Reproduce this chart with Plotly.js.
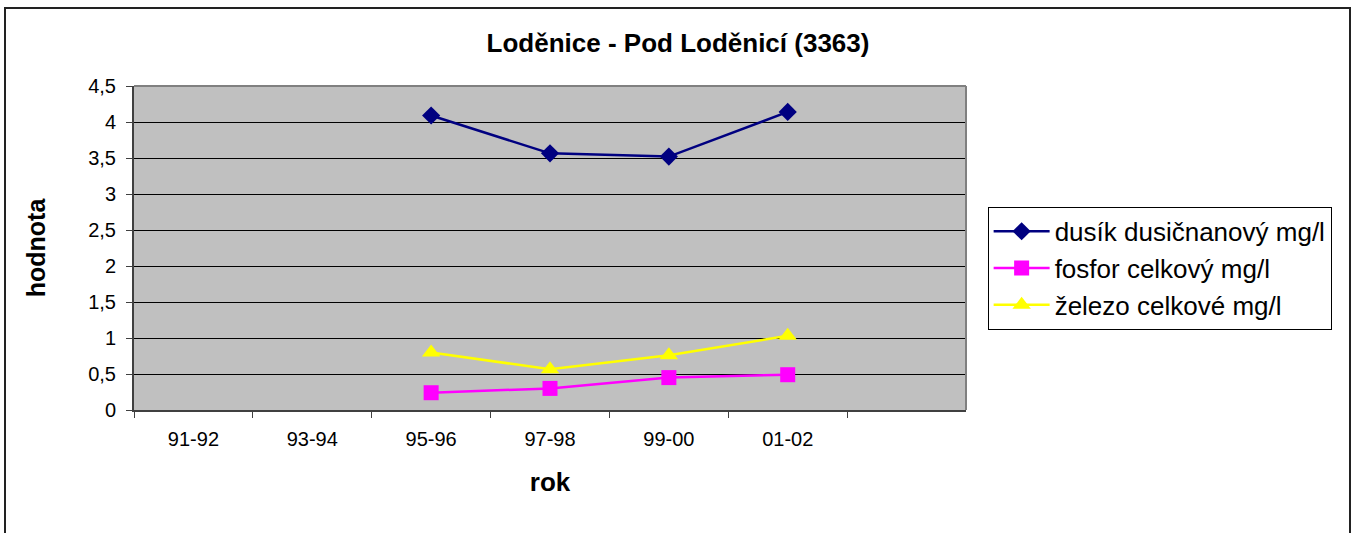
<!DOCTYPE html>
<html>
<head>
<meta charset="utf-8">
<script src="https://cdn.plot.ly/plotly-3.0.1.min.js"></script>
<style>
  html, body { margin: 0; padding: 0; background: #fff; overflow: hidden; }
  #chart { width: 1356px; height: 533px; }
  #frame { position: absolute; left: 4px; top: 7px; width: 1347px; height: 560px;
           border: 2px solid #222; box-sizing: border-box; pointer-events: none; }
</style>
</head>
<body>
<div id="chart"></div>
<div id="frame"></div>
<script>
const categories = ["91-92", "93-94", "95-96", "97-98", "99-00", "01-02"];
const xPoints = ["95-96", "97-98", "99-00", "01-02"];
const dusik = [4.09, 3.565, 3.52, 4.14];
const fosfor = [0.24, 0.30, 0.45, 0.49];
const zelezo = [0.80, 0.565, 0.76, 1.03];
const seriesNames = ["dusík dusičnanový mg/l", "fosfor celkový mg/l", "železo celkové mg/l"];
const yTicks = [0, 0.5, 1, 1.5, 2, 2.5, 3, 3.5, 4, 4.5];

const font = "Liberation Sans, Arial, sans-serif";

const traces = [
  { x: xPoints, y: dusik, name: seriesNames[0], type: "scatter", mode: "lines+markers",
    line: { color: "#000080", width: 2.5 }, marker: { symbol: "diamond", size: 14, color: "#000080" } },
  { x: xPoints, y: fosfor, name: seriesNames[1], type: "scatter", mode: "lines+markers",
    line: { color: "#FF00FF", width: 2.5 }, marker: { symbol: "square", size: 15, color: "#FF00FF" } },
  { x: xPoints, y: zelezo, name: seriesNames[2], type: "scatter", mode: "lines+markers",
    line: { color: "#FFFF00", width: 2.5 }, marker: { symbol: "triangle-up", size: 16, color: "#FFFF00" } }
];

const layout = {
  width: 1356, height: 533,
  margin: { l: 134, r: 390, t: 86, b: 123 },
  paper_bgcolor: "#ffffff",
  plot_bgcolor: "#C0C0C0",
  separators: ", ",
  font: { family: font, color: "#000", size: 20 },
  showlegend: true,
  title: { text: "<b>Loděnice - Pod Loděnicí (3363)</b>", font: { family: font, size: 26, color: "#000" },
           x: 0.5, xref: "container", xanchor: "center", y: 61, yref: "container", yanchor: "middle" },
  xaxis: {
    type: "category",
    categoryorder: "array",
    categoryarray: categories,
    range: [-0.5, 6.5],
    tickson: "boundaries",
    ticks: "outside", ticklen: 6, tickcolor: "#404040", tickwidth: 1,
    showgrid: false,
    showline: true, linecolor: "#404040", linewidth: 2,
    tickfont: { family: font, size: 20, color: "#000" },
    ticklabelstandoff: 10,
    title: { text: "<b>rok</b>", font: { family: font, size: 26, color: "#000" }, standoff: 24 },
    fixedrange: true
  },
  yaxis: {
    range: [0, 4.5],
    tickvals: yTicks,
    ticks: "outside", ticklen: 6, tickcolor: "#404040", tickwidth: 1,
    showgrid: true, gridcolor: "#000000", gridwidth: 1,
    zeroline: false,
    showline: true, linecolor: "#404040", linewidth: 2,
    tickfont: { family: font, size: 20, color: "#000" },
    ticklabelstandoff: 6,
    title: { text: "<b>hodnota</b>", font: { family: font, size: 25, color: "#000" }, standoff: 35 },
    fixedrange: true
  },
  legend: {
    x: 1.026, xref: "paper", xanchor: "left",
    y: 0.627, yref: "paper", yanchor: "top",
    bgcolor: "#ffffff", bordercolor: "#000000", borderwidth: 1,
    font: { family: font, size: 26, color: "#000" },
    itemwidth: 56,
    tracegroupgap: 0
  },
  shapes: [
    { type: "line", xref: "paper", yref: "paper", x0: 0, x1: 1, y0: 1, y1: 1,
      line: { color: "#808080", width: 2 } },
    { type: "line", xref: "paper", yref: "paper", x0: 1, x1: 1, y0: 0, y1: 1,
      line: { color: "#808080", width: 2 } }
  ]
};

Plotly.newPlot("chart", traces, layout, { displayModeBar: false, staticPlot: true });
</script>
</body>
</html>
